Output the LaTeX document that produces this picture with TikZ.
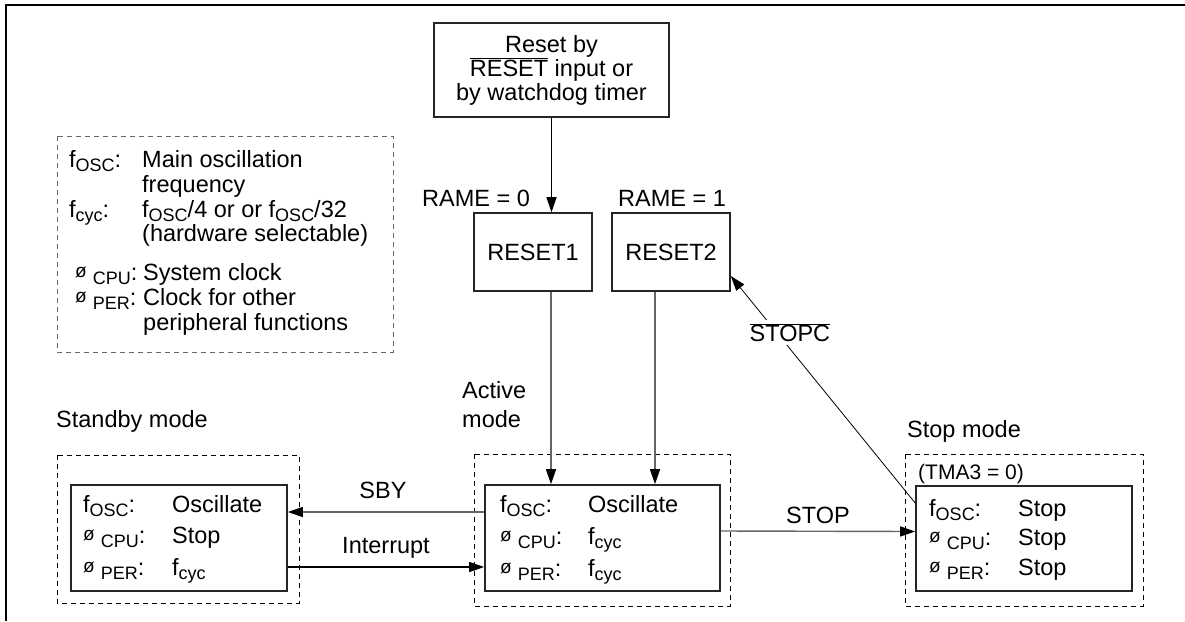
\documentclass[tikz,border=0pt]{standalone}
\usepackage{fontspec}
\setmainfont{Liberation Sans}
\usetikzlibrary{arrows.meta}
\newcommand\sbs[1]{\raisebox{-4pt}{\fontsize{18}{18}\selectfont #1}}
\newcommand\phs{\raisebox{3pt}{\fontsize{19}{19}\selectfont ø}}
\newcommand\phsub[1]{\phs\hspace{6pt}\sbs{#1}:}
\tikzset{
  mfont/.style={font=\fontsize{23.5}{24}\selectfont},
  txt/.style={mfont, inner sep=0pt, anchor=base west},
  solidbox/.style={draw=black!85, line width=1.6pt, mfont, inner sep=0pt},
  dashbox/.style={draw=black, line width=0.9pt, dash pattern=on 5pt off 4pt},
  arr/.style={-{Triangle[length=15pt,width=10pt]}, line width=1.4pt},
  grayarr/.style={arr, draw=black!60, -{Triangle[length=15pt,width=10pt,color=black]}},
  lbl/.style={mfont, inner sep=0pt, anchor=base},
}
\begin{document}
\begin{tikzpicture}[x=1pt,y=-1pt]
\useasboundingbox (0,0) rectangle (1185,621);
% outer frame
\draw[line width=2pt] (6,621) -- (6,5) -- (1185,5);

% reset box
\node[solidbox, minimum width=235pt, minimum height=94pt, align=center] (rst) at (551.5,70)
  {Reset by\\$\overline{\mbox{RESET}}$ input or\\by watchdog timer};
\node[solidbox, minimum width=118pt, minimum height=78pt] (r1) at (533,252) {RESET1};
\node[solidbox, minimum width=118pt, minimum height=78pt] (r2) at (671,252) {RESET2};
\node[txt] (rame0) at (422,206) {RAME = 0};
\node[txt] (rame1) at (618,206) {RAME = 1};

% legend
\draw[dashbox, draw=black!60] (57,136) rectangle (393,352);
\node[txt] (l1a) at (69,167) {f\sbs{OSC}:};
\node[txt] (l1b) at (142,167) {Main oscillation};
\node[txt] (l1c) at (142,192) {frequency};
\node[txt] (l2a) at (69,217) {f\sbs{cyc}:};
\node[txt] (l2b) at (142,217) {f\sbs{OSC}/4 or or f\sbs{OSC}/32};
\node[txt] (l2c) at (142,241) {(hardware selectable)};
\node[txt] (l3a) at (75,280) {\phsub{CPU}};
\node[txt] (l3b) at (143,280) {System clock};
\node[txt] (l4a) at (75,305) {\phsub{PER}};
\node[txt] (l4b) at (143,305) {Clock for other};
\node[txt] (l4c) at (143,330) {peripheral functions};

% standby mode
\node[txt] (sbylbl) at (56,427) {Standby mode};
\draw[dashbox] (57,455) rectangle (299,603);
\node[solidbox, minimum width=216pt, minimum height=106pt] (sby) at (179,538) {};
\node[txt] at (83,512) {f\sbs{OSC}:};
\node[txt] at (172,512) {Oscillate};
\node[txt] at (83,543) {\phsub{CPU}};
\node[txt] at (172,543) {Stop};
\node[txt] at (83,575) {\phsub{PER}};
\node[txt] at (172,575) {f\sbs{cyc}};

% active mode
\node[txt] (actlbl1) at (462,398) {Active};
\node[txt] (actlbl2) at (462,427) {mode};
\draw[dashbox] (474,454) rectangle (730,606);
\node[solidbox, minimum width=235pt, minimum height=106pt] (act) at (602.5,538) {};
\node[txt] at (500,512) {f\sbs{OSC}:};
\node[txt] at (588,512) {Oscillate};
\node[txt] at (500,544) {\phsub{CPU}};
\node[txt] at (588,544) {f\sbs{cyc}};
\node[txt] at (500,576) {\phsub{PER}};
\node[txt] at (588,576) {f\sbs{cyc}};

% stop mode
\node[txt] (stplbl) at (907,437) {Stop mode};
\draw[dashbox] (905,454) rectangle (1143,606);
\node[txt, font=\fontsize{21}{22}\selectfont] (tma) at (918,479) {(TMA3 = 0)};
\node[solidbox, minimum width=216pt, minimum height=105pt] (stp) at (1024,538.5) {};
\node[txt] at (929,516) {f\sbs{OSC}:};
\node[txt] at (1018,516) {Stop};
\node[txt] at (929,545) {\phsub{CPU}};
\node[txt] at (1018,545) {Stop};
\node[txt] at (929,575) {\phsub{PER}};
\node[txt] at (1018,575) {Stop};

% connectors
\draw[arr] (rst.south) -- (rst.south |- r1.north);
\draw[grayarr] ([xshift=18pt]r1.south) -- ([xshift=18pt]r1.south |- act.north);
\draw[grayarr] ([xshift=-16pt]r2.south) -- ([xshift=-16pt]r2.south |- act.north);
\draw[grayarr] ([yshift=26pt]act.west) -- ([yshift=26pt]sby.east)
  node[lbl, midway, yshift=14pt, xshift=-3pt] {SBY};
\draw[arr] ([yshift=-29pt]sby.east) -- ([yshift=-29pt]act.west)
  node[lbl, midway, yshift=14pt] {Interrupt};
\draw[grayarr] ([yshift=7pt]act.east) -- ([yshift=7pt]stp.west)
  node[lbl, midway, yshift=8pt] {STOP};
\draw[-{Triangle[length=15pt,width=10pt]}, line width=0.8pt] ([yshift=35.5pt]stp.west) -- ([yshift=-24pt]r2.east)
  node[pos=0.75, xshift=13pt, fill=white, inner sep=3pt, mfont] {$\overline{\mbox{STOPC}}$};
\end{tikzpicture}
\end{document}
